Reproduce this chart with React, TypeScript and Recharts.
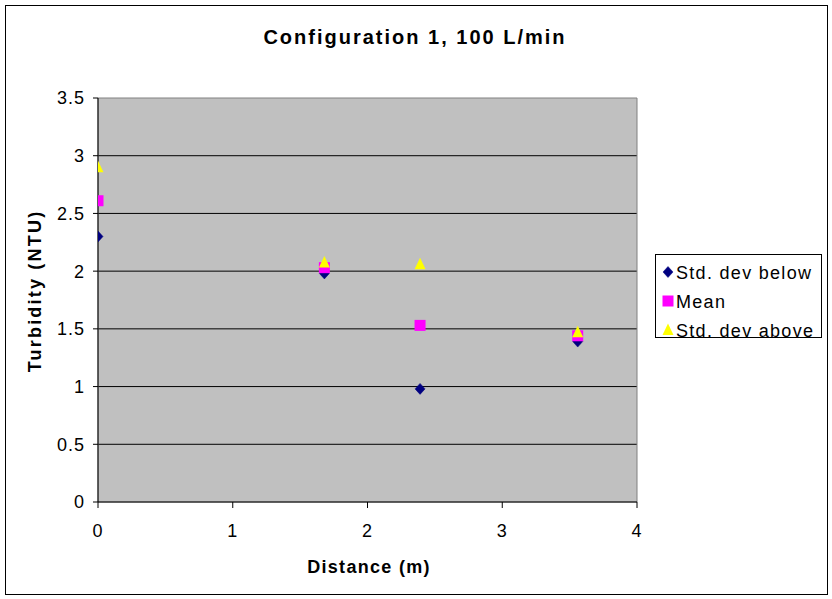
import React from "react";
import {
  ScatterChart,
  Scatter,
  XAxis,
  YAxis,
  CartesianGrid,
  ReferenceArea,
} from "recharts";

const distances = [0, 1.68, 2.39, 3.56];
const stdBelow = [2.3, 1.98, 0.98, 1.39];
const meanVals = [2.61, 2.03, 1.53, 1.44];
const stdAbove = [2.9, 2.075, 2.06, 1.47];
const xTicks = [0, 1, 2, 3, 4];
const yTicks = [0, 0.5, 1, 1.5, 2, 2.5, 3, 3.5];
const gridValues = [0.5, 1, 1.5, 2, 2.5, 3];
const seriesNames = ["Std. dev below", "Mean", "Std. dev above"];
const title = "Configuration 1, 100 L/min";
const xLabel = "Distance (m)";
const yLabel = "Turbidity (NTU)";

const FONT = '"Liberation Sans", Arial, sans-serif';
const NAVY = "#000080";
const MAGENTA = "#ff00ff";
const YELLOW = "#ffff00";

const toPoints = (ys: number[]) => distances.map((x, i) => ({ x, y: ys[i] }));
const belowData = toPoints(stdBelow);
const meanData = toPoints(meanVals);
const aboveData = toPoints(stdAbove);

const Diamond = ({ cx, cy }: any) => (
  <path
    d={`M${cx},${cy - 5.5} L${cx + 5},${cy} L${cx},${cy + 5.5} L${cx - 5},${cy} Z`}
    fill={NAVY}
    stroke={NAVY}
    strokeWidth={0.5}
  />
);
const Square = ({ cx, cy }: any) => (
  <rect x={cx - 5.5} y={cy - 5.5} width={11} height={11} fill={MAGENTA} />
);
const Triangle = ({ cx, cy }: any) => (
  <path
    d={`M${cx},${cy - 6.5} L${cx + 5.5},${cy + 5} L${cx - 5.5},${cy + 5} Z`}
    fill={YELLOW}
  />
);

export default function App() {
  return (
    <div
      style={{
        position: "absolute",
        left: 0,
        top: 0,
        width: 832,
        height: 599,
        background: "#fff",
        fontFamily: FONT,
      }}
    >
      <div
        style={{
          position: "absolute",
          left: 5,
          top: 5,
          width: 821,
          height: 588,
          border: "1px solid #000",
          boxSizing: "content-box",
        }}
      />
      <ScatterChart
        width={832}
        height={599}
        margin={{ top: 98, right: 195, bottom: 37, left: 0 }}
        style={{ position: "absolute", left: 0, top: 0, fontFamily: FONT }}
      >
        <CartesianGrid
          horizontal={true}
          vertical={false}
          horizontalValues={gridValues}
          stroke="#000"
          strokeWidth={1}
          fill="#c0c0c0"
          fillOpacity={1}
        />
        <ReferenceArea
          x1={0}
          x2={4}
          y1={0}
          y2={3.5}
          fill="none"
          stroke="#808080"
          strokeWidth={1}
        />
        <XAxis
          type="number"
          dataKey="x"
          domain={[0, 4]}
          ticks={xTicks}
          height={60}
          tickSize={6}
          tickMargin={16}
          axisLine={{ stroke: "#000" }}
          tickLine={{ stroke: "#000" }}
          tick={{ fill: "#000", fontSize: 18, letterSpacing: 1, fontFamily: FONT }}
          allowDataOverflow
        />
        <YAxis
          type="number"
          dataKey="y"
          domain={[0, 3.5]}
          ticks={yTicks}
          width={98}
          tickSize={5}
          tickMargin={8}
          axisLine={{ stroke: "#000" }}
          tickLine={{ stroke: "#000" }}
          tick={{ fill: "#000", fontSize: 18, letterSpacing: 1, fontFamily: FONT }}
          allowDataOverflow
        />
        <Scatter
          name={seriesNames[0]}
          data={belowData}
          shape={<Diamond />}
          isAnimationActive={false}
        />
        <Scatter
          name={seriesNames[1]}
          data={meanData}
          shape={<Square />}
          isAnimationActive={false}
        />
        <Scatter
          name={seriesNames[2]}
          data={aboveData}
          shape={<Triangle />}
          isAnimationActive={false}
        />
        <text
          x={415}
          y={44}
          textAnchor="middle"
          fontSize={20}
          fontWeight="bold"
          letterSpacing={2}
          fontFamily={FONT}
          fill="#000"
        >
          {title}
        </text>
        <text
          x={369}
          y={573}
          textAnchor="middle"
          fontSize={18}
          fontWeight="bold"
          letterSpacing={1.3}
          fontFamily={FONT}
          fill="#000"
        >
          {xLabel}
        </text>
        <text
          x={0}
          y={0}
          transform="translate(41,291) rotate(-90)"
          textAnchor="middle"
          fontSize={18}
          fontWeight="bold"
          letterSpacing={2.2}
          fontFamily={FONT}
          fill="#000"
        >
          {yLabel}
        </text>
      </ScatterChart>
      <svg
        width={168}
        height={85}
        style={{ position: "absolute", left: 655, top: 254 }}
      >
        <rect x={0.5} y={0.5} width={166} height={83} fill="#fff" stroke="#000" />
        {seriesNames.map((name, i) => {
          const cy = 18 + i * 29;
          const cx = 13;
          const marker =
            i === 0 ? (
              <Diamond cx={cx} cy={cy} />
            ) : i === 1 ? (
              <Square cx={cx} cy={cy} />
            ) : (
              <Triangle cx={cx} cy={cy} />
            );
          return (
            <g key={name}>
              {marker}
              <text
                x={21}
                y={cy + 6.5}
                fontSize={18}
                letterSpacing={1.3}
                fontFamily={FONT}
                fill="#000"
              >
                {name}
              </text>
            </g>
          );
        })}
      </svg>
    </div>
  );
}
